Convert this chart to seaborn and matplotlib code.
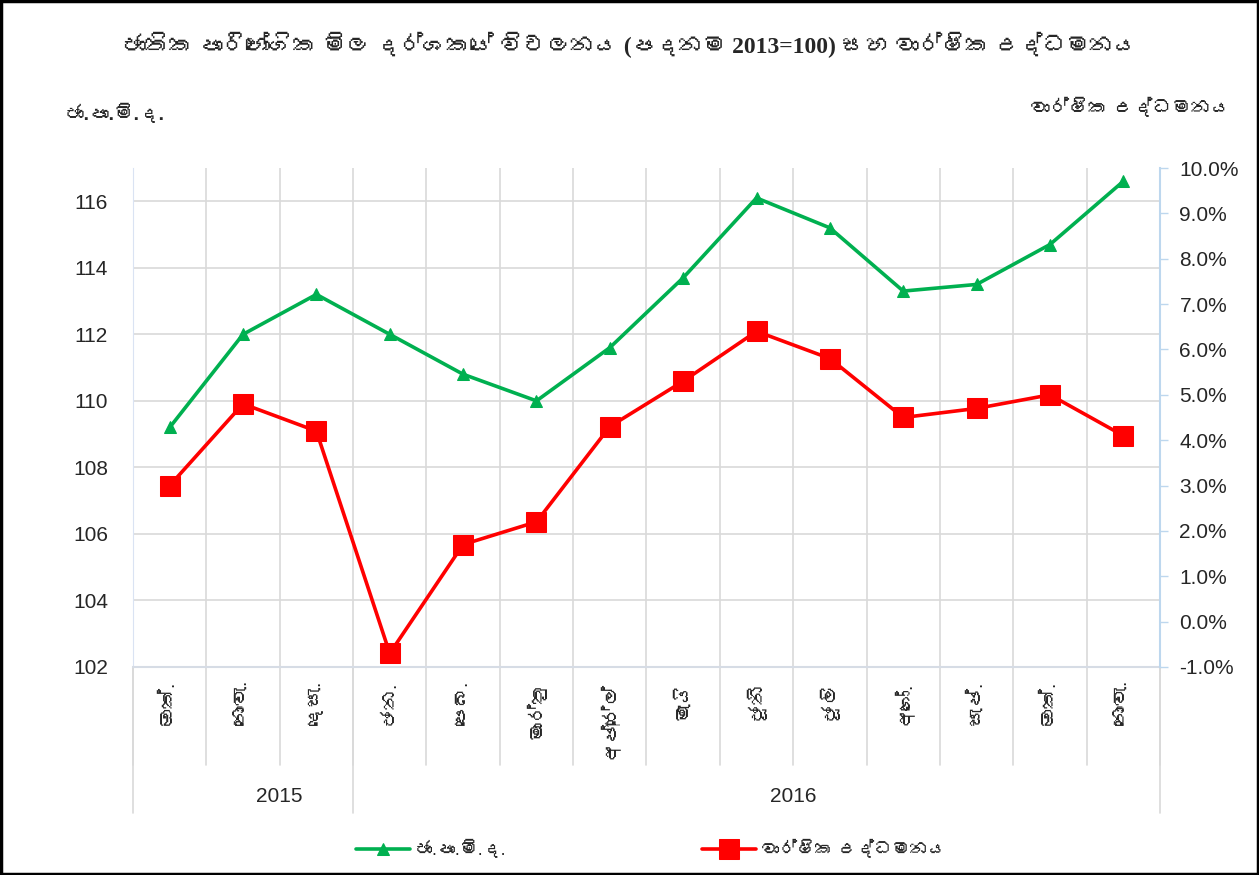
import numpy as np
import pandas as pd
import matplotlib
matplotlib.use("Agg")
import matplotlib.pyplot as plt
import matplotlib.transforms as mtransforms
from matplotlib import font_manager
from matplotlib.ft2font import FT2Font
from matplotlib.patches import Rectangle
from matplotlib.ticker import FuncFormatter, MultipleLocator
import seaborn as sns

# ---------------- data ----------------
months = ['ඔක්.', 'නොවැ.', 'දෙසැ.', 'ජන.', 'පෙබ.', 'මාර්තු', 'අප්‍රේල්',
          'මැයි', 'ජූනි', 'ජූලි', 'අගෝ.', 'සැප්.', 'ඔක්.', 'නොවැ.']
years = ['2015', '2016']
year_counts = [3, 11]
ncpi = [109.2, 112.0, 113.2, 112.0, 110.8, 110.0, 111.6, 113.7, 116.1,
        115.2, 113.3, 113.5, 114.7, 116.6]
inflation = [3.0, 4.8, 4.2, -0.7, 1.7, 2.2, 4.3, 5.3, 6.4, 5.8, 4.5, 4.7,
             5.0, 4.1]

title = 'ජාතික පාරිභෝගික මිල දර්ශකයේ විචලනය (පදනම 2013=100) සහ වාර්ෂික උද්ධමනය'
left_label = 'ජා.පා.මි.ද.'
right_label = 'වාර්ෂික උද්ධමනය'


# look for any installed family that covers Sinhala
def find_sinhala_families():
    found = []
    for fe in font_manager.fontManager.ttflist:
        try:
            cmap = FT2Font(fe.fname).get_charmap()
        except Exception:
            continue
        if 0x0DA2 in cmap and 0x0D9A in cmap and fe.name not in found:
            found.append(fe.name)
    return found


sinhala = find_sinhala_families()

df = pd.DataFrame({'pos': np.arange(len(months)), 'ncpi': ncpi,
                   'inflation': inflation})

sns.set_style('white')
sans = ['Liberation Sans'] + sinhala + ['DejaVu Sans']
serif = ['Liberation Serif'] + sinhala + ['DejaVu Sans']
plt.rcParams['font.family'] = sans

fig = plt.figure(figsize=(12.59, 8.75), dpi=100)
ax = fig.add_axes([133 / 1259, 1 - 667 / 875, (1160 - 133) / 1259, (667 - 168) / 875])
ax2 = ax.twinx()

green = '#00B050'
red = '#FF0000'

sns.lineplot(data=df, x='pos', y='ncpi', ax=ax, color=green, lw=2.6,
             marker='^', markersize=8, markeredgecolor=green,
             label=left_label, legend=False)
sns.lineplot(data=df, x='pos', y='inflation', ax=ax2, color=red, lw=2.6,
             marker='s', markersize=14, markeredgecolor=red,
             label=right_label, legend=False)

n = len(months)
ax.set_xlim(-0.5, n - 0.5)
ax.set_ylim(102, 117)
ax.set_yticks(np.arange(102, 117, 2))
ax2.set_ylim(-1, 10)
ax2.yaxis.set_major_locator(MultipleLocator(1))
ax2.yaxis.set_major_formatter(FuncFormatter(lambda v, p: f'{v:.1f}%'))

ax.set_xticks(np.arange(n))
ax.set_xticklabels(months, rotation=90, fontsize=14, va='top', ha='center')
ax.set_xticks(np.arange(-0.5, n, 1), minor=True)
ax.set_xlabel('')
ax.set_ylabel('')
ax2.set_ylabel('')

grid_c = '#D9D9D9'
ax.grid(False)
ax.grid(True, which='minor', axis='x', color=grid_c, lw=1.2)
ax.grid(True, which='major', axis='y', color=grid_c, lw=1.2)
ax2.grid(False)

ax.tick_params(axis='x', which='both', length=0, pad=10, colors='#262626')
ax.tick_params(axis='y', length=0, pad=18, labelsize=15, colors='#262626')
ax2.tick_params(axis='y', length=6, width=1, color='#BDD7EE', pad=8,
                labelsize=15, labelcolor='#262626', direction='out')

for a in (ax, ax2):
    a.spines['top'].set_visible(False)
ax.spines['left'].set_color('#DAE3F3')
ax.spines['bottom'].set_color('#D6DCE5')
ax.spines['bottom'].set_linewidth(1.5)
ax.spines['right'].set_visible(False)
ax2.spines['left'].set_visible(False)
ax2.spines['bottom'].set_visible(False)
ax2.spines['right'].set_color('#BDD7EE')
ax2.spines['right'].set_linewidth(1.5)

# multi-level category axis
trans = mtransforms.blended_transform_factory(ax.transData, ax.transAxes)
y_short = -(765 - 667) / 499
y_long = -(813 - 667) / 499
y_year = -(797 - 667) / 499
for b in np.arange(-0.5, n, 1):
    ax.plot([b, b], [0, y_short], transform=trans, color=grid_c, lw=1.2,
            clip_on=False)
bounds = [-0.5]
for cnt in year_counts:
    bounds.append(bounds[-1] + cnt)
for b in bounds:
    ax.plot([b, b], [0, y_long], transform=trans, color=grid_c, lw=1.2,
            clip_on=False)
for yr, b0, b1 in zip(years, bounds[:-1], bounds[1:]):
    ax.text((b0 + b1) / 2 + 0.5, y_year, yr, transform=trans, ha='center',
            va='center', fontsize=15, color='#262626')

# titles and axis labels
fig.text(0.5, 1 - 45 / 875, title, ha='center', va='center', fontsize=17,
         family=serif, weight='bold')
fig.text(65 / 1259, 1 - 114 / 875, left_label, ha='left', va='center',
         fontsize=14, weight='bold', color='#262626')
fig.text(1230 / 1259, 1 - 108 / 875, right_label, ha='right', va='center',
         fontsize=14, weight='bold', color='#262626')

# legend
h1, l1 = ax.get_legend_handles_labels()
h2, l2 = ax2.get_legend_handles_labels()
fig.legend(h1 + h2, l1 + l2, loc='center', bbox_to_anchor=(0.517, 1 - 850 / 875),
           ncol=2, frameon=False, fontsize=13, handlelength=3.0,
           columnspacing=10.8, handletextpad=0.3)

# outer frame
fig.patches.append(Rectangle((0.001, 0.001), 0.998, 0.998, transform=fig.transFigure,
                             fill=False, edgecolor='black', lw=2.5, zorder=10))

fig.savefig('out.png', dpi=100)
